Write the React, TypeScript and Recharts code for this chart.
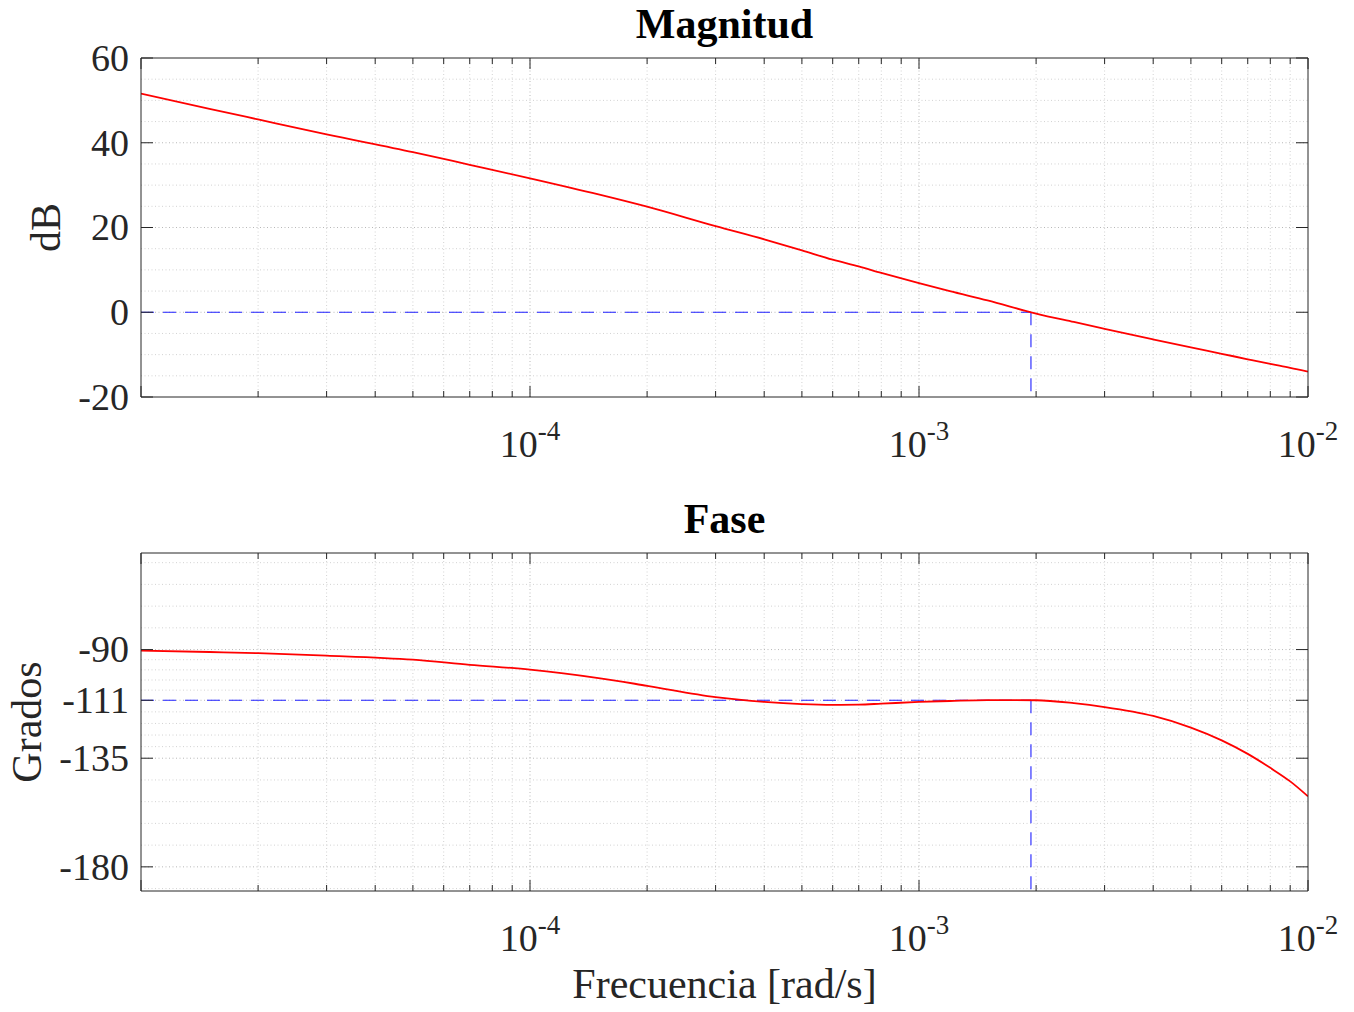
import React from 'react';
import { LineChart, Line, XAxis, YAxis, ReferenceLine } from 'recharts';

// frecuencias (rad/s)
const freqs = [
  1e-5, 1.5e-5, 2e-5, 3e-5, 5e-5, 7e-5, 1e-4, 1.5e-4, 2e-4, 3e-4, 4e-4, 5e-4, 6e-4, 7e-4,
  8e-4, 1e-3, 1.2e-3, 1.5e-3, 2e-3, 2.5e-3, 3e-3, 4e-3, 5e-3, 6e-3, 7e-3, 8e-3, 9e-3, 1e-2,
];
const magnitudeDb = [
  51.6, 48.0, 45.5, 42.0, 37.8, 34.8, 31.6, 27.8, 24.9, 20.3, 17.2, 14.6, 12.4, 10.8,
  9.3, 6.9, 5.0, 2.8, -0.3, -2.3, -3.9, -6.4, -8.3, -9.8, -11.1, -12.2, -13.1, -14.0,
];
const phaseDeg = [
  -90.4, -91.0, -91.5, -92.5, -94.2, -96.3, -98.3, -101.8, -105.0, -109.7, -111.7, -112.6, -112.9, -112.8,
  -112.4, -111.7, -111.3, -110.9, -111.0, -112.2, -113.8, -117.5, -122.3, -127.6, -133.2, -139.0, -144.6, -150.8,
];

// frecuencia de cruce y fase en el cruce
const crossFreq = 1.94e-3;
const crossPhase = -111;

const xDomain = [1e-5, 1e-2];
const xTicks = [
  1e-5, 2e-5, 3e-5, 4e-5, 5e-5, 6e-5, 7e-5, 8e-5, 9e-5,
  1e-4, 2e-4, 3e-4, 4e-4, 5e-4, 6e-4, 7e-4, 8e-4, 9e-4,
  1e-3, 2e-3, 3e-3, 4e-3, 5e-3, 6e-3, 7e-3, 8e-3, 9e-3, 1e-2,
];
const xLabelled = [1e-4, 1e-3, 1e-2];

const magDomain = [-20, 60];
const magTicks = [-20, 0, 20, 40, 60];
const magGrid = [-15, -10, -5, 0, 5, 10, 15, 20, 25, 30, 35, 40, 45, 50, 55];

const phaseDomain = [-190, -50];
const phaseTicks = [-180, -135, -111, -90];
const phaseGrid = [
  -54, -63, -72, -81, -90, -94.2, -98.4, -102.6, -106.8, -111, -115.8, -120.6, -125.4,
  -130.2, -135, -144, -153, -162, -171, -180, -189,
];

const data = freqs.map((f, i) => ({ f, mag: magnitudeDb[i], phase: phaseDeg[i] }));

const AXIS = '#262626';
const FONT = '"Liberation Serif", "Times New Roman", serif';
const TICK_FONT = 38;
const LABEL_FONT = 42;

const isDecade = (v: number) => Math.abs(Math.log10(v) - Math.round(Math.log10(v))) < 1e-6;

const BottomTick = (props: any) => {
  const { x, y, payload } = props;
  const v = payload.value;
  const len = isDecade(v) ? 11 : 6;
  const exp = Math.round(Math.log10(v));
  const labelled = xLabelled.some((t) => Math.abs(t - v) / t < 1e-6);
  return (
    <g>
      <line x1={x} x2={x} y1={y} y2={y - len} stroke={AXIS} strokeWidth={1} />
      {labelled && (
        <text x={x} y={y + 60} textAnchor="middle" fill={AXIS} fontFamily={FONT} fontSize={TICK_FONT}>
          <tspan>10</tspan>
          <tspan dy={-17} fontSize={27}>{`-${Math.abs(exp)}`}</tspan>
        </text>
      )}
    </g>
  );
};

const TopTick = (props: any) => {
  const { x, y, payload } = props;
  const len = isDecade(payload.value) ? 11 : 6;
  return <line x1={x} x2={x} y1={y} y2={y + len} stroke={AXIS} strokeWidth={1} />;
};

const LeftTick = (props: any) => {
  const { x, y, payload } = props;
  return (
    <g>
      <line x1={x} x2={x + 12} y1={y} y2={y} stroke={AXIS} strokeWidth={1} />
      <text x={x - 12} y={y} dy="0.34em" textAnchor="end" fill={AXIS} fontFamily={FONT} fontSize={TICK_FONT}>
        {payload.value}
      </text>
    </g>
  );
};

const RightTick = (props: any) => {
  const { x, y } = props;
  return <line x1={x} x2={x - 12} y1={y} y2={y} stroke={AXIS} strokeWidth={1} />;
};

interface PanelProps {
  top: number;
  height: number;
  margin: { top: number; right: number; bottom: number; left: number };
  dataKey: string;
  yDomain: number[];
  yTicks: number[];
  yGrid: number[];
  title: string;
  yLabel: string;
  yLabelX: number;
  refY: number;
  xLabel?: string;
}

const Panel: React.FC<PanelProps> = ({
  top, height, margin, dataKey, yDomain, yTicks, yGrid, title, yLabel, yLabelX, refY, xLabel,
}) => {
  const vGrid = xTicks.filter((v) => v > xDomain[0] && v < xDomain[1]);
  return (
    <div style={{ position: 'absolute', left: 0, top }}>
      <LineChart width={1354} height={height} data={data} margin={margin}>
        <XAxis
          dataKey="f"
          type="number"
          scale="log"
          domain={xDomain}
          allowDataOverflow
          ticks={xTicks}
          interval={0}
          height={70}
          tickSize={0}
          tickMargin={0}
          tickLine={false}
          tick={<BottomTick />}
          axisLine={{ stroke: AXIS, strokeWidth: 1 }}
          label={
            xLabel
              ? {
                  content: (p: any) => {
                    const vb = p.viewBox;
                    return (
                      <text x={vb.x + vb.width / 2} y={vb.y + 107} textAnchor="middle" fill={AXIS}
                        fontFamily={FONT} fontSize={LABEL_FONT}>
                        {xLabel}
                      </text>
                    );
                  },
                }
              : undefined
          }
        />
        {/* eje superior: height 1 para que se dibuje */}
        <XAxis
          xAxisId="top"
          orientation="top"
          dataKey="f"
          type="number"
          scale="log"
          domain={xDomain}
          allowDataOverflow
          ticks={xTicks}
          interval={0}
          height={1}
          tickSize={0}
          tickMargin={0}
          tickLine={false}
          tick={<TopTick />}
          axisLine={{ stroke: AXIS, strokeWidth: 1 }}
          label={{
            content: (p: any) => {
              const vb = p.viewBox;
              return (
                <text x={vb.x + vb.width / 2} y={vb.y + vb.height - 20} textAnchor="middle" fill="#000"
                  fontFamily={FONT} fontSize={LABEL_FONT} fontWeight="bold">
                  {title}
                </text>
              );
            },
          }}
        />
        <YAxis
          type="number"
          domain={yDomain}
          allowDataOverflow
          ticks={yTicks}
          interval={0}
          width={141}
          tickSize={0}
          tickMargin={0}
          tickLine={false}
          tick={<LeftTick />}
          axisLine={{ stroke: AXIS, strokeWidth: 1 }}
          label={{
            content: (p: any) => {
              const vb = p.viewBox;
              const cy = vb.y + vb.height / 2;
              return (
                <text x={yLabelX} y={cy} dy="0.34em" textAnchor="middle" fill={AXIS} fontFamily={FONT}
                  fontSize={LABEL_FONT} transform={`rotate(-90 ${yLabelX} ${cy})`}>
                  {yLabel}
                </text>
              );
            },
          }}
        />
        <YAxis
          yAxisId="right"
          orientation="right"
          type="number"
          domain={yDomain}
          allowDataOverflow
          ticks={yTicks}
          interval={0}
          width={1}
          tickSize={0}
          tickMargin={0}
          tickLine={false}
          tick={<RightTick />}
          axisLine={{ stroke: AXIS, strokeWidth: 1 }}
        />

        {vGrid.map((v) => (
          <ReferenceLine key={`v${v}`} x={v} stroke={isDecade(v) ? '#b8b8b8' : '#d2d2d2'}
            strokeDasharray="1 2.5" strokeWidth={1} />
        ))}
        {yGrid.map((v) => (
          <ReferenceLine key={`h${v}`} y={v} stroke={yTicks.includes(v) ? '#b8b8b8' : '#d2d2d2'}
            strokeDasharray="1 2.5" strokeWidth={1} />
        ))}

        <ReferenceLine
          segment={[{ x: xDomain[0], y: refY }, { x: crossFreq, y: refY }]}
          stroke="#2020ff" strokeWidth={1.1} strokeDasharray="13 9" ifOverflow="visible"
        />
        <ReferenceLine
          segment={[{ x: crossFreq, y: refY }, { x: crossFreq, y: yDomain[0] }]}
          stroke="#2020ff" strokeWidth={1.1} strokeDasharray="13 9" ifOverflow="visible"
        />

        {/* serie invisible para que los ejes superior y derecho tengan dominio */}
        <Line
          xAxisId="top"
          yAxisId="right"
          dataKey={dataKey}
          stroke="none"
          dot={false}
          activeDot={false}
          isAnimationActive={false}
        />
        <Line
          type="monotone"
          dataKey={dataKey}
          stroke="#ff0000"
          strokeWidth={1.8}
          dot={false}
          activeDot={false}
          isAnimationActive={false}
        />
      </LineChart>
    </div>
  );
};

export default function App() {
  return (
    <div style={{ position: 'absolute', left: 0, top: 0, width: 1354, height: 1012, background: '#fff' }}>
      <Panel
        top={0}
        height={480}
        margin={{ top: 57, right: 45, bottom: 13, left: 0 }}
        dataKey="mag"
        yDomain={magDomain}
        yTicks={magTicks}
        yGrid={magGrid}
        title="Magnitud"
        yLabel="dB"
        yLabelX={46}
        refY={0}
      />
      <Panel
        top={480}
        height={532}
        margin={{ top: 72, right: 45, bottom: 51, left: 0 }}
        dataKey="phase"
        yDomain={phaseDomain}
        yTicks={phaseTicks}
        yGrid={phaseGrid}
        title="Fase"
        yLabel="Grados"
        yLabelX={27}
        refY={crossPhase}
        xLabel="Frecuencia [rad/s]"
      />
    </div>
  );
}
